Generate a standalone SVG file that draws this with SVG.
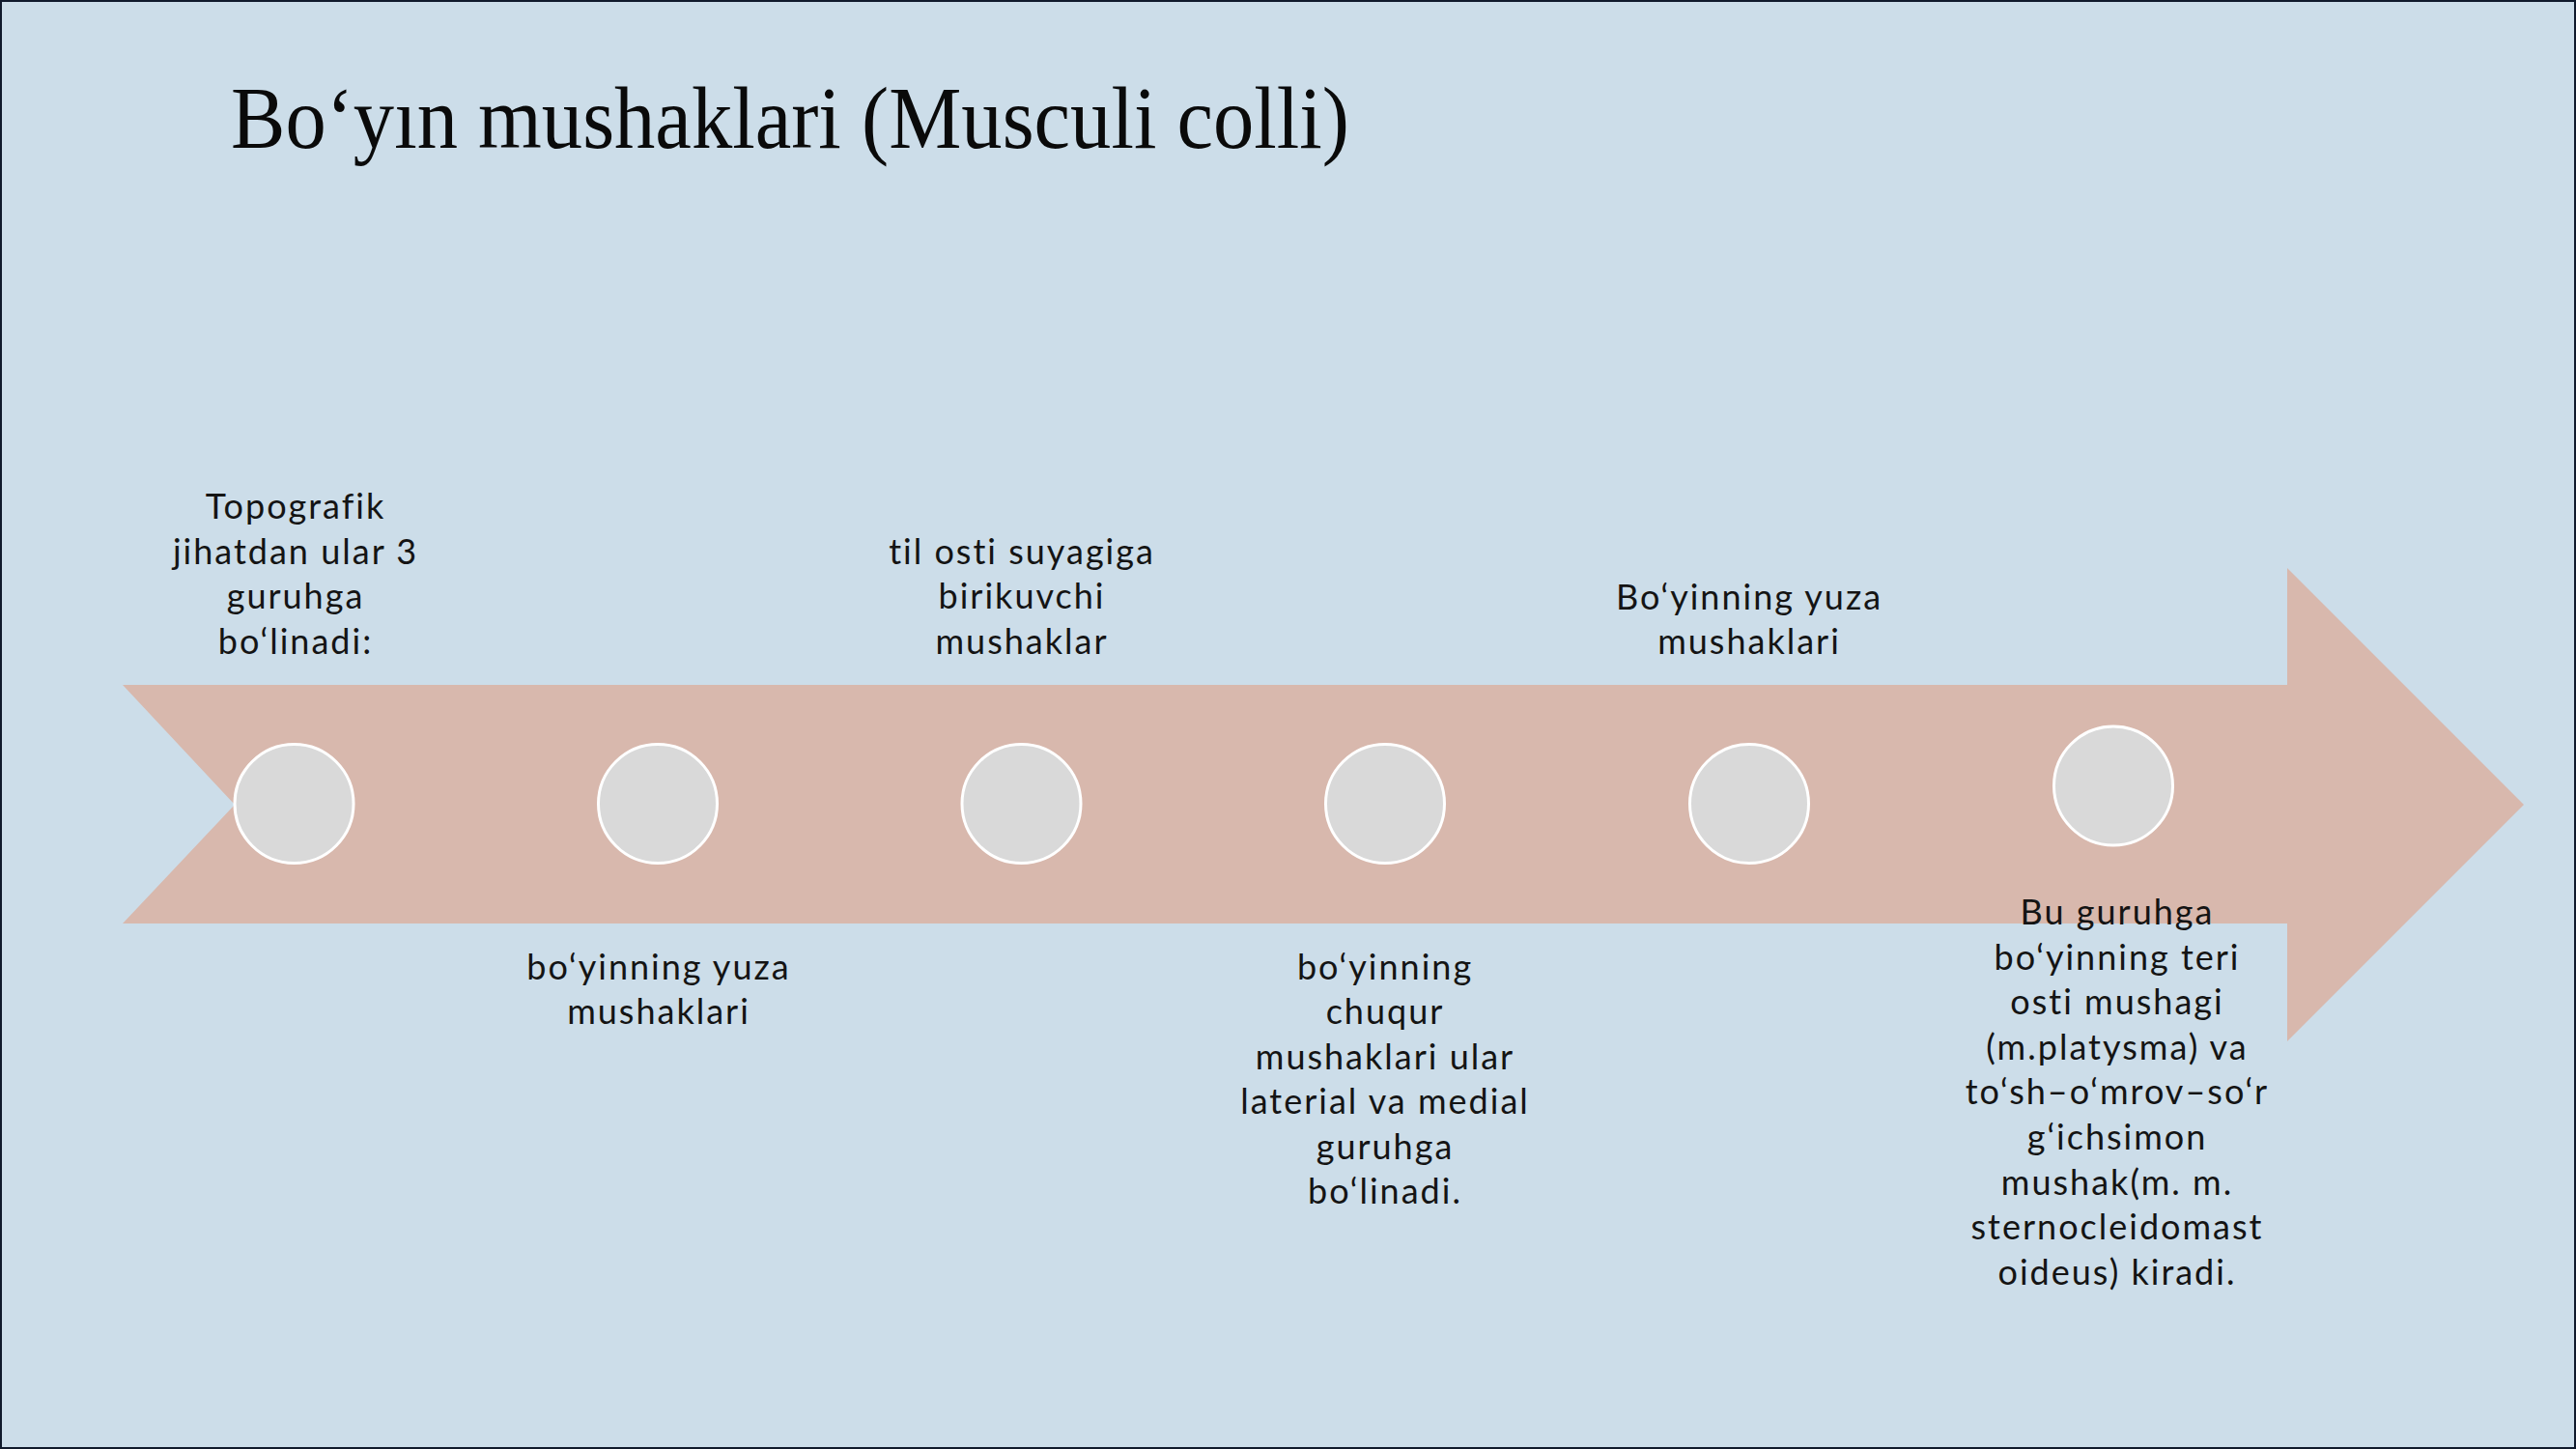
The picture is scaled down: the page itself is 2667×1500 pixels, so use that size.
<svg xmlns="http://www.w3.org/2000/svg" width="2667" height="1500" viewBox="0 0 2667 1500">
<style>
.lbl{font-family:Lato,"Liberation Sans",sans-serif;font-size:36px;letter-spacing:2px;font-variant-ligatures:none;fill:#141414;text-anchor:middle}
.title{font-family:"Liberation Serif",serif;font-size:92px;fill:#0a0a0a}
.dot{fill:#D9D9D9;stroke:#FFFFFF;stroke-width:3}
</style>
<rect x="1" y="1" width="2665" height="1498" fill="#CCDDE9" stroke="#101a2c" stroke-width="2"/>
<text class="title" x="239" y="153" textLength="1158" lengthAdjust="spacingAndGlyphs">Bo‘yın mushaklari (Musculi colli)</text>
<g id="connectors">
<polygon id="timeline-arrow" points="127,709 2368,709 2368,588 2613,833 2368,1078 2368,956 127,956 243,833" fill="#D8B8AD"/>
</g>
<g id="node1">
<circle class="dot" cx="304.5" cy="832" r="61.5"/>
<text class="lbl" x="306" y="537">Topografik</text>
<text class="lbl" x="306" y="584">jihatdan ular 3</text>
<text class="lbl" x="306" y="630">guruhga</text>
<text class="lbl" x="306" y="677">bo‘linadi:</text>
</g>
<g id="node2">
<circle class="dot" cx="681" cy="832" r="61.5"/>
<text class="lbl" x="682" y="1014">bo‘yinning yuza</text>
<text class="lbl" x="682" y="1060">mushaklari</text>
</g>
<g id="node3">
<circle class="dot" cx="1057.5" cy="832" r="61.5"/>
<text class="lbl" x="1058" y="584">til osti suyagiga</text>
<text class="lbl" x="1058" y="630">birikuvchi</text>
<text class="lbl" x="1058" y="677">mushaklar</text>
</g>
<g id="node4">
<circle class="dot" cx="1434" cy="832" r="61.5"/>
<text class="lbl" x="1434" y="1014">bo‘yinning</text>
<text class="lbl" x="1434" y="1060">chuqur</text>
<text class="lbl" x="1434" y="1107">mushaklari ular</text>
<text class="lbl" x="1434" y="1153">laterial va medial</text>
<text class="lbl" x="1434" y="1200">guruhga</text>
<text class="lbl" x="1434" y="1246">bo‘linadi.</text>
</g>
<g id="node5">
<circle class="dot" cx="1811" cy="832" r="61.5"/>
<text class="lbl" x="1811" y="631">Bo‘yinning yuza</text>
<text class="lbl" x="1811" y="677">mushaklari</text>
</g>
<g id="node6">
<circle class="dot" cx="2188" cy="813.5" r="61.5"/>
<text class="lbl" x="2192" y="957">Bu guruhga</text>
<text class="lbl" x="2192" y="1004">bo‘yinning teri</text>
<text class="lbl" x="2192" y="1050">osti mushagi</text>
<text class="lbl" x="2192" y="1097">(m.platysma) va</text>
<text class="lbl" x="2192" y="1143">to‘sh–o‘mrov–so‘r</text>
<text class="lbl" x="2192" y="1190">g‘ichsimon</text>
<text class="lbl" x="2192" y="1237">mushak(m. m.</text>
<text class="lbl" x="2192" y="1283">sternocleidomast</text>
<text class="lbl" x="2192" y="1330">oideus) kiradi.</text>
</g>
</svg>
